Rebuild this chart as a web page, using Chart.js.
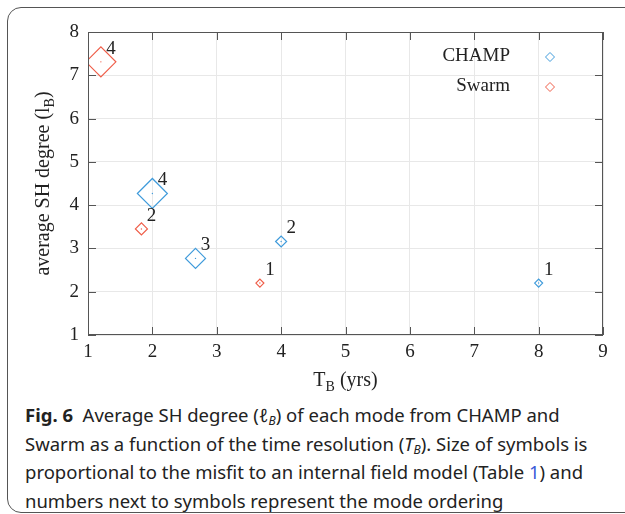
<!DOCTYPE html>
<html>
<head>
<meta charset="utf-8">
<script src="https://cdn.jsdelivr.net/npm/chart.js@4.4.1/dist/chart.umd.min.js"></script>
<style>
  body { margin: 0; background: #fff; width: 625px; height: 514px; overflow: hidden; position: relative; }
  #frame { position: absolute; left: 7px; top: 7px; width: 660px; height: 504px; border: 1px solid #555; border-radius: 14px; }
  #wrap { position: absolute; left: 0; top: 0; width: 625px; height: 400px; }
  #caption { position: absolute; left: 25px; top: 401px; width: 580px; font-family: "Noto Sans", sans-serif; font-size: 18.5px; line-height: 28.6px; color: #222; }
  #caption b { font-weight: bold; }
  #caption sub { font-size: 12px; vertical-align: -3px; line-height: 0; }
  .lnk { color: #3a5bd9; }
</style>
</head>
<body>
<div id="frame"></div>
<div id="wrap"><canvas id="myChart" width="625" height="400"></canvas></div>
<div id="caption"><b>Fig. 6</b>&nbsp; Average SH degree (<i>ℓ<sub>B</sub></i>) of each mode from CHAMP and Swarm as a function of the time resolution (<i>T<sub>B</sub></i>). Size of symbols is proportional to the misfit to an internal field model (Table <span class="lnk">1</span>) and numbers next to symbols represent the mode ordering</div>
<script>
// values
var champT = [8.0, 4.0, 2.67, 2.0];
var champL = [2.2, 3.16, 2.77, 4.27];
var champMisfit = [4, 5.5, 10, 15];
var champOrder = ['1', '2', '3', '4'];

var swarmT = [3.67, 1.83, 1.2];
var swarmL = [2.2, 3.45, 7.31];
var swarmMisfit = [4, 6, 15];
var swarmOrder = ['1', '2', '4'];

var xTicks = [1, 2, 3, 4, 5, 6, 7, 8, 9];
var yTicks = [1, 2, 3, 4, 5, 6, 7, 8];

var blue = '#3f9bdb';
var red = '#ef5d48';
var serif = '"Liberation Serif", "DejaVu Serif", serif';

function pts(xs, ys) {
  var out = [];
  for (var i = 0; i < xs.length; i++) out.push({x: xs[i], y: ys[i]});
  return out;
}

// axes box, inside ticks, titles, legend, mode numbers
var extras = {
  id: 'extras',
  afterDatasetsDraw: function(chart) {
    var ctx = chart.ctx;
    var a = chart.chartArea;
    var xs = chart.scales.x, ys = chart.scales.y;
    ctx.save();

    // box + inward ticks
    ctx.strokeStyle = '#555';
    ctx.lineWidth = 1;
    ctx.strokeRect(a.left + 0.5, a.top + 0.5, a.right - a.left - 1, a.bottom - a.top - 1);
    ctx.beginPath();
    xTicks.forEach(function(v) {
      var px = Math.round(xs.getPixelForValue(v)) + 0.5;
      ctx.moveTo(px, a.bottom); ctx.lineTo(px, a.bottom - 8);
      ctx.moveTo(px, a.top); ctx.lineTo(px, a.top + 8);
    });
    yTicks.forEach(function(v) {
      var py = Math.round(ys.getPixelForValue(v)) + 0.5;
      ctx.moveTo(a.left, py); ctx.lineTo(a.left + 8, py);
      ctx.moveTo(a.right, py); ctx.lineTo(a.right - 8, py);
    });
    ctx.stroke();

    // mode numbers
    ctx.fillStyle = '#222';
    ctx.font = '19px ' + serif;
    ctx.textAlign = 'center';
    ctx.textBaseline = 'middle';
    function nums(xv, yv, lab) {
      for (var i = 0; i < xv.length; i++) {
        ctx.fillText(lab[i], xs.getPixelForValue(xv[i]) + 10, ys.getPixelForValue(yv[i]) - 13);
      }
    }
    nums(champT, champL, champOrder);
    nums(swarmT, swarmL, swarmOrder);

    // legend
    ctx.textAlign = 'right';
    ctx.fillText('CHAMP', 510, 56);
    ctx.fillText('Swarm', 510, 86);
    function diamond(x, y, r, c) {
      ctx.strokeStyle = c;
      ctx.beginPath();
      ctx.moveTo(x, y - r); ctx.lineTo(x + r, y); ctx.lineTo(x, y + r); ctx.lineTo(x - r, y); ctx.closePath();
      ctx.stroke();
    }
    diamond(550, 57, 4.5, blue);
    diamond(550, 87, 4.5, red);

    // x title
    ctx.fillStyle = '#222';
    ctx.textAlign = 'left';
    ctx.textBaseline = 'alphabetic';
    var big = '20px ' + serif, small = '14px ' + serif;
    ctx.font = big; var w1 = ctx.measureText('T').width;
    ctx.font = small; var w2 = ctx.measureText('B').width;
    ctx.font = big; var w3 = ctx.measureText(' (yrs)').width;
    var cx = (a.left + a.right) / 2, x0 = cx - (w1 + w2 + w3) / 2, by = 386;
    ctx.fillText('T', x0, by);
    ctx.font = small; ctx.fillText('B', x0 + w1, by + 5);
    ctx.font = big; ctx.fillText(' (yrs)', x0 + w1 + w2, by);

    // y title
    ctx.translate(49, (a.top + a.bottom) / 2);
    ctx.rotate(-Math.PI / 2);
    ctx.font = big; var t1 = ctx.measureText('average SH degree (l').width;
    ctx.font = small; var t2 = ctx.measureText('B').width;
    ctx.font = big; var t3 = ctx.measureText(')').width;
    var s0 = -(t1 + t2 + t3) / 2;
    ctx.fillText('average SH degree (l', s0, 0);
    ctx.font = small; ctx.fillText('B', s0 + t1, 5);
    ctx.font = big; ctx.fillText(')', s0 + t1 + t2, 0);

    ctx.restore();
  }
};

var ctx = document.getElementById('myChart');
var chart = new Chart(ctx, {
  type: 'scatter',
  data: {
    datasets: [{
      label: 'CHAMP',
      data: pts(champT, champL),
      pointStyle: 'rectRot',
      pointRadius: champMisfit,
      pointBorderColor: blue,
      pointBackgroundColor: 'rgba(0,0,0,0)',
      borderColor: blue,
      pointBorderWidth: 1.2
    }, {
      label: 'Swarm',
      data: pts(swarmT, swarmL),
      pointStyle: 'rectRot',
      pointRadius: swarmMisfit,
      pointBorderColor: red,
      pointBackgroundColor: 'rgba(0,0,0,0)',
      borderColor: red,
      pointBorderWidth: 1.2
    }, {
      label: 'CHAMP centre',
      data: pts(champT, champL),
      pointRadius: 0.7,
      pointBorderWidth: 0,
      pointBorderColor: blue,
      pointBackgroundColor: blue
    }, {
      label: 'Swarm centre',
      data: pts(swarmT, swarmL),
      pointRadius: 0.7,
      pointBorderWidth: 0,
      pointBorderColor: red,
      pointBackgroundColor: red
    }]
  },
  options: {
    responsive: false,
    animation: false,
    events: [],
    layout: { padding: { top: 32, right: 22, left: 0, bottom: 0 } },
    plugins: { legend: { display: false }, tooltip: { enabled: false } },
    scales: {
      x: {
        type: 'linear', min: 1, max: 9,
        afterFit: function(s) { s.height = 65; },
        afterBuildTicks: function(s) { s.ticks = xTicks.map(function(v) { return {value: v}; }); },
        ticks: { font: { family: serif, size: 19 }, color: '#222', padding: 6 },
        grid: { color: '#e8e8e8', drawTicks: false },
        border: { display: false }
      },
      y: {
        type: 'linear', min: 1, max: 8,
        afterFit: function(s) { s.width = 88; },
        afterBuildTicks: function(s) { s.ticks = yTicks.map(function(v) { return {value: v}; }); },
        ticks: { font: { family: serif, size: 19 }, color: '#222', padding: 9 },
        grid: { color: '#e8e8e8', drawTicks: false },
        border: { display: false }
      }
    }
  },
  plugins: [extras]
});
</script>
</body>
</html>
